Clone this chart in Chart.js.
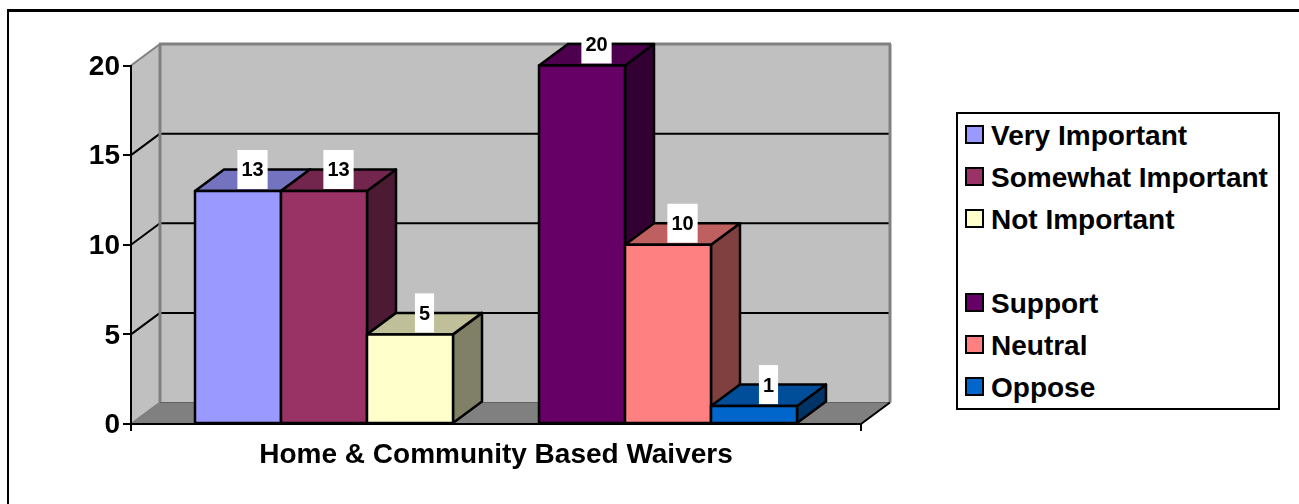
<!DOCTYPE html>
<html>
<head>
<meta charset="utf-8">
<script src="https://cdn.jsdelivr.net/npm/chart.js@4"></script>
<style>
  html, body { margin: 0; padding: 0; background: #fff; overflow: hidden; }
  #wrap { position: relative; width: 1299px; height: 504px; }
  #frame { position: absolute; left: 7px; top: 9px; right: 0; bottom: 0; border-left: 2px solid #000; border-top: 3px solid #000; }
  canvas { position: absolute; left: 0; top: 0; }
  #legend { position: absolute; left: 956px; top: 112px; width: 320px; height: 294px; border: 2px solid #000; background: #fff;
            font: bold 28px "Liberation Sans", Arial, sans-serif; color: #000; }
  #legend .row { position: absolute; left: 33px; white-space: nowrap; line-height: 30px; height: 30px; }
  #legend .box { position: absolute; left: 7px; width: 15px; height: 15px; border: 2px solid #000; box-sizing: content-box; }
</style>
</head>
<body>
<div id="wrap">
  <div id="frame"></div>
  <canvas id="myChart" width="1299" height="504"></canvas>
  <div id="legend"></div>
</div>
<script>
const categories = ["Home & Community Based Waivers"];
const seriesNames = ["Very Important", "Somewhat Important", "Not Important", "", "Support", "Neutral", "Oppose"];
const seriesValues = [13, 13, 5, null, 20, 10, 1];
const seriesColors = ["#9999FF", "#993366", "#FFFFCC", "#FFFFFF", "#660066", "#FF8080", "#0066CC"];
const topColors = ["#7373BF", "#73264D", "#BFBF99", "#FFFFFF", "#4D004D", "#BF6060", "#004D99"];
const sideColors = ["#4D4D80", "#4D1A33", "#808066", "#FFFFFF", "#330033", "#804040", "#003366"];
const yTicks = [0, 5, 10, 15, 20];

const depthX = 29;
const depthY = 21.5;
const edge = 2.5;

function poly(ctx, pts, fill, stroke, lw) {
  ctx.beginPath();
  ctx.moveTo(pts[0][0], pts[0][1]);
  for (let i = 1; i < pts.length; i++) ctx.lineTo(pts[i][0], pts[i][1]);
  ctx.closePath();
  if (fill) { ctx.fillStyle = fill; ctx.fill(); }
  if (stroke) { ctx.strokeStyle = stroke; ctx.lineWidth = lw; ctx.lineJoin = "round"; ctx.stroke(); }
}

function line(ctx, x1, y1, x2, y2, color, lw) {
  ctx.beginPath();
  ctx.moveTo(x1, y1);
  ctx.lineTo(x2, y2);
  ctx.strokeStyle = color;
  ctx.lineWidth = lw;
  ctx.stroke();
}

const box3dPlugin = {
  id: "box3d",
  // back wall, side wall, floor and the gridlines on them
  beforeDraw(chart) {
    const { ctx, chartArea: a, scales } = chart;
    const y = scales.y;
    const y0 = y.getPixelForValue(0);
    const yMax = y.getPixelForValue(20);
    ctx.save();
    poly(ctx, [[a.left, yMax], [a.left + depthX, yMax - depthY], [a.left + depthX, y0 - depthY], [a.left, y0]], "#C0C0C0");
    poly(ctx, [[a.left + depthX, yMax - depthY], [a.right + depthX, yMax - depthY], [a.right + depthX, y0 - depthY], [a.left + depthX, y0 - depthY]], "#C0C0C0");
    poly(ctx, [[a.left, y0], [a.left + depthX, y0 - depthY], [a.right + depthX, y0 - depthY], [a.right, y0]], "#808080");
    yTicks.forEach((t) => {
      if (t === 0 || t === 20) return;
      const p = y.getPixelForValue(t);
      line(ctx, a.left, p, a.left + depthX, p - depthY, "#000", 2);
      line(ctx, a.left + depthX, p - depthY, a.right + depthX, p - depthY, "#000", 2);
    });
    line(ctx, a.left, yMax, a.left + depthX, yMax - depthY, "#808080", 2);
    line(ctx, a.left + depthX - 1, yMax - depthY, a.right + depthX + 1, yMax - depthY, "#808080", 3);
    line(ctx, a.left + depthX, yMax - depthY, a.left + depthX, y0 - depthY, "#808080", 3);
    line(ctx, a.right + depthX, yMax - depthY, a.right + depthX, y0 - depthY, "#808080", 3);
    line(ctx, a.left + depthX, y0 - depthY, a.right + depthX, y0 - depthY, "#606060", 1);
    line(ctx, a.left, y0, a.left + depthX, y0 - depthY, "#808080", 2);
    line(ctx, a.right, y0, a.right + depthX, y0 - depthY, "#000", 2);
    ctx.restore();
  },
  // chart.js paints the last dataset first, the boxes need left to right
  beforeDatasetDraw() {
    return false;
  },
  afterDatasetsDraw(chart) {
    const { ctx } = chart;
    ctx.save();
    seriesValues.forEach((v, i) => {
      if (v === null) return;
      const el = chart.getDatasetMeta(i).data[0];
      const l = el.x - el.width / 2;
      const r = el.x + el.width / 2;
      poly(ctx, [[r, el.y], [r + depthX, el.y - depthY], [r + depthX, el.base - depthY], [r, el.base]], sideColors[i], "#000", edge);
      poly(ctx, [[l, el.y], [l + depthX, el.y - depthY], [r + depthX, el.y - depthY], [r, el.y]], topColors[i], "#000", edge);
      el.draw(ctx);
      poly(ctx, [[l, el.y], [r, el.y], [r, el.base], [l, el.base]], null, "#000", edge);
    });
    ctx.font = 'bold 20px "Liberation Sans", Arial, sans-serif';
    ctx.textAlign = "center";
    ctx.textBaseline = "middle";
    seriesValues.forEach((v, i) => {
      if (v === null) return;
      const el = chart.getDatasetMeta(i).data[0];
      const cx = el.x + depthX / 2;
      const label = String(v);
      const w = ctx.measureText(label).width + 8;
      ctx.fillStyle = "#fff";
      ctx.fillRect(cx - w / 2, el.y - 41, w, 39);
      ctx.fillStyle = "#000";
      ctx.fillText(label, cx, el.y - 20);
    });
    ctx.restore();
  },
};

new Chart(document.getElementById("myChart"), {
  type: "bar",
  data: {
    labels: categories,
    datasets: seriesNames.map((name, i) => ({
      label: name,
      data: [seriesValues[i]],
      backgroundColor: seriesColors[i],
      borderWidth: 0,
    })),
  },
  options: {
    responsive: false,
    animation: false,
    categoryPercentage: 602 / 730,
    barPercentage: 1,
    layout: { padding: { left: 0, top: 65.5, right: 438, bottom: 0 } },
    plugins: { legend: { display: false }, tooltip: { enabled: false } },
    scales: {
      x: {
        afterFit(scale) { scale.height = 80; },
        grid: { drawOnChartArea: false, color: "#000", lineWidth: 2, tickLength: 7 },
        border: { color: "#000", width: 2 },
        ticks: { color: "#000", padding: 7, maxRotation: 0, font: { family: "Liberation Sans", size: 28, weight: "bold" } },
      },
      y: {
        min: 0,
        max: 20,
        afterFit(scale) { scale.width = 131; },
        afterBuildTicks(scale) { scale.ticks = yTicks.map((v) => ({ value: v })); },
        grid: { drawOnChartArea: false, color: "#000", lineWidth: 2, tickLength: 8 },
        border: { color: "#000", width: 2 },
        ticks: { color: "#000", padding: 3, labelOffset: 1.5, font: { family: "Liberation Sans", size: 28, weight: "bold" } },
      },
    },
  },
  plugins: [box3dPlugin],
});

const legend = document.getElementById("legend");
seriesNames.forEach((name, i) => {
  if (!name) return;
  const top = 22 + i * 42 - 1;
  const box = document.createElement("div");
  box.className = "box";
  box.style.top = top - 10 + "px";
  box.style.background = seriesColors[i];
  legend.appendChild(box);
  const row = document.createElement("div");
  row.className = "row";
  row.style.top = top - 14 + "px";
  row.textContent = name;
  legend.appendChild(row);
});
</script>
</body>
</html>
